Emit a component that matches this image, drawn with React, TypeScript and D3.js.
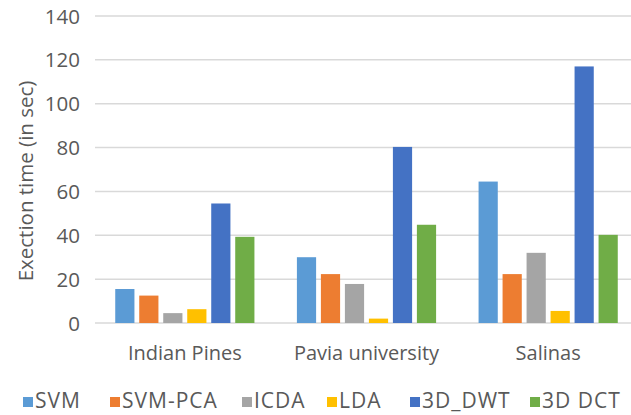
import React from "react";
import * as d3 from "d3";

const categories = ["Indian Pines", "Pavia university", "Salinas"];
const seriesNames = ["SVM", "SVM-PCA", "ICDA", "LDA", "3D_DWT", "3D DCT"];
const svmValues = [15.5, 30, 64.5];
const svmPcaValues = [12.5, 22.3, 22.3];
const icdaValues = [4.5, 17.8, 32];
const ldaValues = [6.3, 2, 5.5];
const dwtValues = [54.5, 80.3, 117];
const dctValues = [39.3, 44.8, 40.2];
const seriesValues = [svmValues, svmPcaValues, icdaValues, ldaValues, dwtValues, dctValues];
const colors = ["#5B9BD5", "#ED7D31", "#A5A5A5", "#FFC000", "#4472C4", "#70AD47"];
const yTicks = [0, 20, 40, 60, 80, 100, 120, 140];

const W = 631;
const H = 415;
const FONT = "'Open Sans', sans-serif";
const TXT = "#595959";

export default function App() {
  const x0 = d3.scaleBand<string>().domain(categories).range([94, 639]).padding(0);
  const x1 = d3
    .scaleBand<string>()
    .domain(seriesNames)
    .range([0, x0.bandwidth()])
    .paddingInner(0.2)
    .paddingOuter(0.885);
  const y = d3.scaleLinear().domain([0, 140]).range([323, 16]);

  const legendX = [23, 110, 242, 327, 410, 530];

  return (
    <svg
      width={W}
      height={H}
      style={{ position: "absolute", left: 0, top: 0, background: "#fff" }}
      fontFamily={FONT}
    >
      <rect width={W} height={H} fill="#fff" />
      {yTicks.map((t) => (
        <g key={t}>
          <line x1={95} x2={W} y1={y(t)} y2={y(t)} stroke="#d9d9d9" strokeWidth={1.5} />
          <text x={80} y={y(t) + 7.5} textAnchor="end" fontSize={20.5} fill={TXT}>
            {t}
          </text>
        </g>
      ))}
      {categories.map((c, ci) => (
        <g key={c} transform={`translate(${x0(c)},0)`}>
          {seriesNames.map((s, si) => {
            const v = seriesValues[si][ci];
            return (
              <rect
                key={s}
                x={x1(s)}
                y={y(v)}
                width={x1.bandwidth()}
                height={y(0) - y(v)}
                fill={colors[si]}
              />
            );
          })}
          <text
            x={x0.bandwidth() / 2}
            y={360}
            textAnchor="middle"
            fontSize={20}
            fill={TXT}
          >
            {c}
          </text>
        </g>
      ))}
      <text
        transform="translate(33,181) rotate(-90)"
        textAnchor="middle"
        fontSize={20.5}
        fill={TXT}
      >
        Exection time (in sec)
      </text>
      {seriesNames.map((s, si) => (
        <g key={s} transform={`translate(${legendX[si]},0)`}>
          <rect x={0} y={397} width={10} height={10} fill={colors[si]} />
          <text x={12} y={408} fontSize={21} letterSpacing={1} fill={TXT}>
            {s}
          </text>
        </g>
      ))}
    </svg>
  );
}
